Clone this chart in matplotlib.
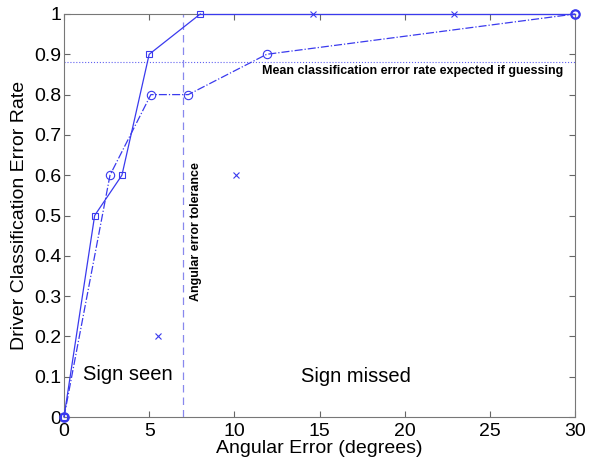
import matplotlib
matplotlib.use("Agg")
import matplotlib.pyplot as plt

plt.rcParams['font.family'] = ['Liberation Sans', 'DejaVu Sans']

# Data
sq_x = [0, 1.8, 3.4, 5.0, 8.0, 30]
sq_y = [0, 0.5, 0.6, 0.9, 1.0, 1.0]
ci_x = [0, 2.7, 5.1, 7.3, 11.9, 30]
ci_y = [0, 0.6, 0.8, 0.8, 0.9, 1.0]
cr_x = [5.5, 10.1, 14.6, 22.9]
cr_y = [0.2, 0.6, 1.0, 1.0]
guess_rate = 0.88
tolerance = 7
xticks = [0, 5, 10, 15, 20, 25, 30]
yticks = [0, 0.1, 0.2, 0.3, 0.4, 0.5, 0.6, 0.7, 0.8, 0.9, 1]
ytick_labels = ['0', '0.1', '0.2', '0.3', '0.4', '0.5', '0.6', '0.7', '0.8', '0.9', '1']

col = '#3a3aee'
fig = plt.figure(figsize=(5.91, 4.59), dpi=100)
ax = fig.add_axes([0.1083, 0.0915, 0.8647, 0.878])

ax.plot(sq_x[:-1], sq_y[:-1], '-', color=col, lw=0.9, marker='s', ms=5,
        mfc='none', mec=col, mew=0.8, clip_on=False, zorder=3)
ax.plot(sq_x[-2:], sq_y[-2:], '-', color=col, lw=0.9, clip_on=False, zorder=3)
ax.plot(ci_x, ci_y, '-.', color=col, lw=0.9, marker='o', ms=6,
        mfc='none', mec=col, mew=0.8, clip_on=False, zorder=3)
ax.plot(cr_x, cr_y, 'x', color=col, ms=4, mew=0.8, clip_on=False, zorder=3)
ax.plot([0], [0], 'o', color=col, ms=6, mfc='none', mew=1.6, clip_on=False, zorder=4)
ax.plot([30], [1], 'o', color=col, ms=6, mfc='none', mew=1.6, clip_on=False, zorder=4)

ax.axhline(guess_rate, color=col, ls=':', lw=0.8, alpha=0.8)
ax.axvline(tolerance, color='#8888ee', ls=(0, (6, 4)), lw=0.9)

ax.text(11.6, 0.858, 'Mean classification error rate expected if guessing',
        fontsize=9, fontweight='bold', va='center', ha='left')
ax.text(7.75, 0.46, 'Angular error tolerance', fontsize=9, fontweight='bold',
        rotation=90, va='center', ha='center')
ax.text(1.1, 0.105, 'Sign seen', fontsize=14.5, va='center', ha='left')
ax.text(13.9, 0.10, 'Sign missed', fontsize=14.5, va='center', ha='left')

ax.set_xlim(0, 30)
ax.set_ylim(0, 1)
ax.set_xticks(xticks)
ax.set_yticks(yticks)
ax.set_yticklabels(ytick_labels)
ax.tick_params(direction='in', labelsize=14, length=4, color='#666666',
               top=True, right=True)
ax.tick_params(axis='x', pad=4)
ax.tick_params(axis='y', pad=2)
for s in ax.spines.values():
    s.set_color('#777777')
ax.set_xlabel('Angular Error (degrees)', fontsize=14, labelpad=0)
ax.set_ylabel('Driver Classification Error Rate', fontsize=14, labelpad=4)

fig.savefig('out.png', dpi=100)
